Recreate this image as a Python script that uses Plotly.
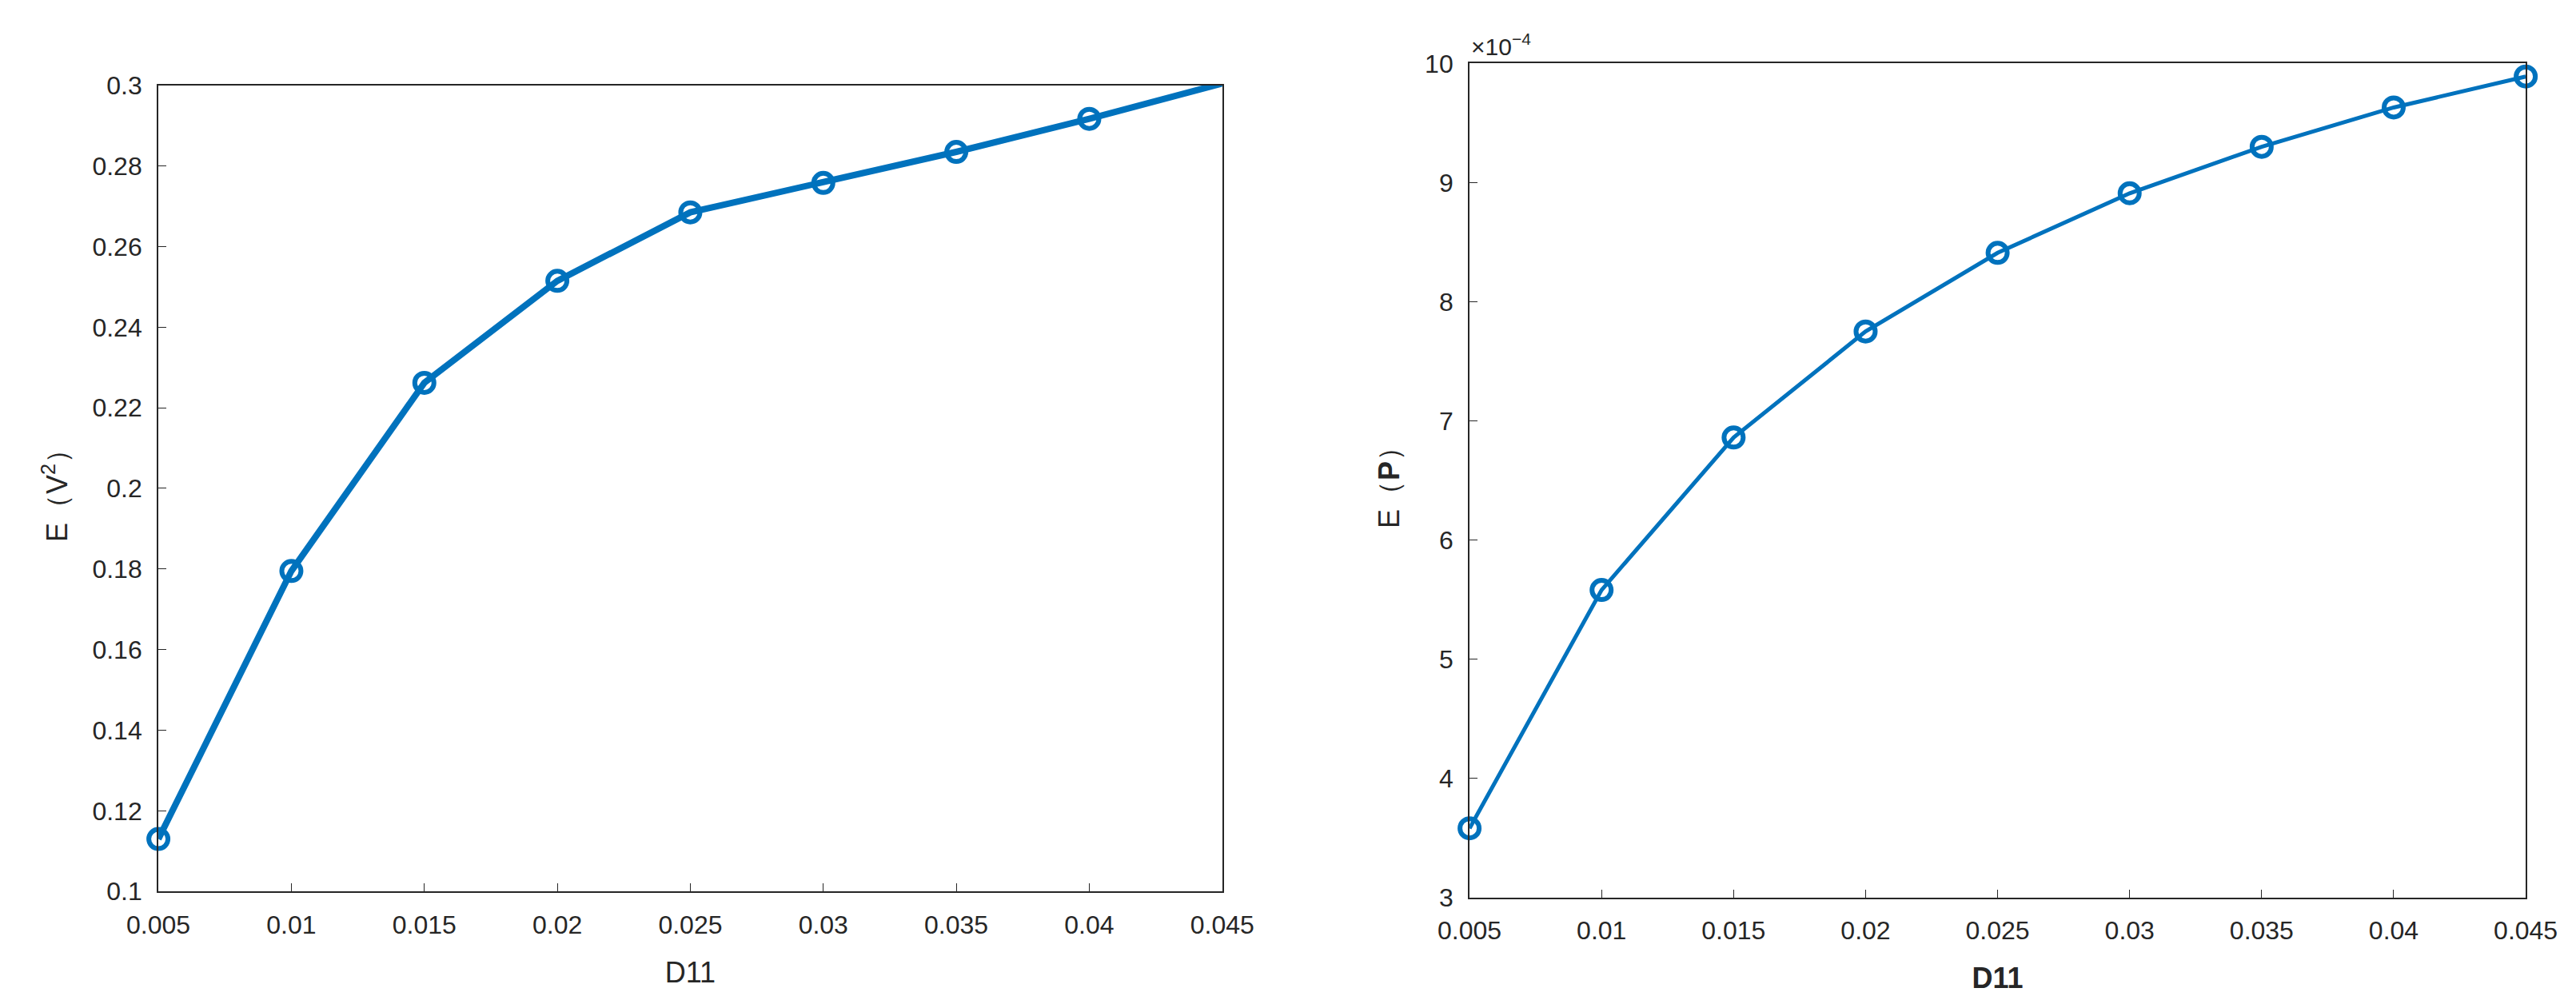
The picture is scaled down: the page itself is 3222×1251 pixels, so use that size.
import plotly.graph_objects as go

x_vals = [0.005, 0.01, 0.015, 0.02, 0.025, 0.03, 0.035, 0.04, 0.045]
ev2 = [0.113, 0.1795, 0.2262, 0.2515, 0.2685, 0.2758, 0.2835, 0.2917, 0.3005]
ep = [3.58, 5.58, 6.86, 7.75, 8.41, 8.91, 9.30, 9.63, 9.89]
x_ticks = ["0.005", "0.01", "0.015", "0.02", "0.025", "0.03", "0.035", "0.04", "0.045"]
y1_ticks = [0.1, 0.12, 0.14, 0.16, 0.18, 0.2, 0.22, 0.24, 0.26, 0.28, 0.3]
y2_ticks = [3, 4, 5, 6, 7, 8, 9, 10]

blue = "#0072BD"
fig = go.Figure()
fig.add_trace(go.Scatter(x=x_vals, y=ev2, mode="lines+markers", xaxis="x", yaxis="y",
                         line=dict(color=blue, width=8), cliponaxis=False,
                         marker=dict(symbol="circle-open", size=24, color=blue, line=dict(width=6))))
fig.add_trace(go.Scatter(x=x_vals, y=ep, mode="lines+markers", xaxis="x2", yaxis="y2",
                         line=dict(color=blue, width=5), cliponaxis=False,
                         marker=dict(symbol="circle-open", size=24, color=blue, line=dict(width=6))))

tickfont = dict(family="Arial, Liberation Sans", size=32, color="#262626")
ax = dict(showgrid=False, zeroline=False, showline=True, linecolor="#262626", linewidth=2,
          mirror=True, ticks="inside", ticklen=10, tickcolor="#262626", tickfont=tickfont,
          automargin=False, ticklabelstandoff=12)
tf = dict(family="Arial, Liberation Sans", size=36, color="#262626")
fig.update_layout(
    width=3222, height=1251, paper_bgcolor="white", plot_bgcolor="white",
    margin=dict(l=0, r=0, t=0, b=0), showlegend=False,
    xaxis=dict(ax, domain=[0.059, 0.472], range=[0.005, 0.045], tickvals=x_vals, ticktext=x_ticks,
               title=dict(text="D11", font=tf, standoff=30)),
    yaxis=dict(ax, domain=[0.115, 0.921], range=[0.1, 0.3], tickvals=y1_ticks,
               ticktext=[f"{v:g}" for v in y1_ticks],
               title=dict(text="E（V<sup>2</sup>）", font=tf, standoff=20)),
    xaxis2=dict(ax, anchor="y2", domain=[0.568, 0.978], range=[0.005, 0.045], tickvals=x_vals, ticktext=x_ticks,
                title=dict(text="<b>D11</b>", font=tf, standoff=30)),
    yaxis2=dict(ax, anchor="x2", domain=[0.109, 0.943], range=[3, 10], tickvals=y2_ticks,
                ticktext=[str(v) for v in y2_ticks],
                title=dict(text="E（<b>P</b>）", font=tf, standoff=20)),
    annotations=[dict(text="×10<sup>−4</sup>", xref="paper", yref="paper", x=0.568, y=0.945,
                      xanchor="left", yanchor="bottom", showarrow=False,
                      font=dict(family="Arial, Liberation Sans", size=30, color="#262626"))],
)
fig.write_html("out.html")
